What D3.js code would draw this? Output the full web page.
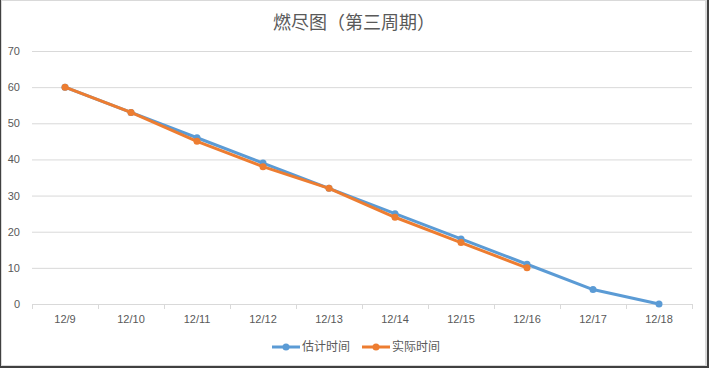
<!DOCTYPE html>
<html>
<head>
<meta charset="utf-8">
<script src="https://cdn.jsdelivr.net/npm/d3@7"></script>
<style>
body { margin: 0; background: #fff; }
svg { display: block; font-family: "Microsoft YaHei", "Noto Sans CJK SC", sans-serif; }
</style>
</head>
<body>
<svg width="709" height="368"></svg>
<script>
var dates = ["12/9", "12/10", "12/11", "12/12", "12/13", "12/14", "12/15", "12/16", "12/17", "12/18"];
var estimated = [60, 53, 46, 39, 32, 25, 18, 11, 4, 0];
var actual = [60, 53, 45, 38, 32, 24, 17, 10];
var yTicks = [0, 10, 20, 30, 40, 50, 60, 70];
var seriesNames = ["估计时间", "实际时间"];
var colors = ["#5b9bd5", "#ed7d31"];

var svg = d3.select("svg"),
	width = +svg.attr("width"),
	height = +svg.attr("height");

// outer frame
svg.append("rect").attr("x", 0).attr("y", 0).attr("width", width).attr("height", height).attr("fill", "#404040");
svg.append("rect").attr("x", 1).attr("y", 0).attr("width", 706).attr("height", 366).attr("fill", "#d9d9d9");
svg.append("rect").attr("x", 2).attr("y", 1).attr("width", 703).attr("height", 364).attr("fill", "#fff");

var x = d3.scaleBand().domain(dates).range([32, 692]),
	y = d3.scaleLinear().domain([0, 70]).range([304, 51]);

svg.append("text").attr("x", 354).attr("y", 29).attr("text-anchor", "middle")
	.attr("fill", "#595959").style("font-size", "18px").text("燃尽图（第三周期）");

// gridlines
svg.append("g").selectAll("line").data(yTicks.filter(function(d) { return d > 0; })).enter().append("line")
	.attr("x1", 32).attr("x2", 692)
	.attr("y1", function(d) { return y(d) + 0.5; }).attr("y2", function(d) { return y(d) + 0.5; })
	.attr("stroke", "#d9d9d9").attr("stroke-width", 1);

var yAxis = svg.append("g").attr("transform", "translate(20,0)")
	.call(d3.axisLeft(y).tickValues(yTicks).tickSize(0).tickPadding(0));
yAxis.select(".domain").remove();
yAxis.selectAll("text").attr("fill", "#595959").style("font-size", "11px").attr("text-anchor", "end").attr("dx", "0");

var xAxis = svg.append("g").attr("transform", "translate(0,304.5)")
	.call(d3.axisBottom(x).tickSize(0).tickPadding(11));
xAxis.select(".domain").attr("stroke", "#d9d9d9").attr("d", "M32,0H692");
xAxis.selectAll("text").attr("fill", "#595959").style("font-size", "11px");
svg.append("g").selectAll("line").data(d3.range(dates.length + 1)).enter().append("line")
	.attr("x1", function(i) { return 32.5 + i * x.bandwidth(); }).attr("x2", function(i) { return 32.5 + i * x.bandwidth(); })
	.attr("y1", 304).attr("y2", 309).attr("stroke", "#d9d9d9");

var line = d3.line()
	.x(function(d, i) { return x(dates[i]) + x.bandwidth() / 2; })
	.y(function(d) { return y(d); });

[estimated, actual].forEach(function(s, k) {
	var g = svg.append("g");
	g.append("path").datum(s).attr("d", line).attr("fill", "none")
		.attr("stroke", colors[k]).attr("stroke-width", 3).attr("stroke-linejoin", "round");
	g.selectAll("circle").data(s).enter().append("circle")
		.attr("cx", function(d, i) { return x(dates[i]) + x.bandwidth() / 2; })
		.attr("cy", function(d) { return y(d); })
		.attr("r", 3.5).attr("fill", colors[k]);
});

// legend
var legendX = [272, 362];
seriesNames.forEach(function(n, k) {
	var lg = svg.append("g").attr("transform", "translate(" + legendX[k] + ",347)");
	lg.append("line").attr("x1", 0).attr("x2", 28).attr("stroke", colors[k]).attr("stroke-width", 3);
	lg.append("circle").attr("cx", 14).attr("r", 3.5).attr("fill", colors[k]);
	lg.append("text").attr("x", 30).attr("y", 4).attr("fill", "#595959").style("font-size", "12px").text(n);
});
</script>
</body>
</html>
